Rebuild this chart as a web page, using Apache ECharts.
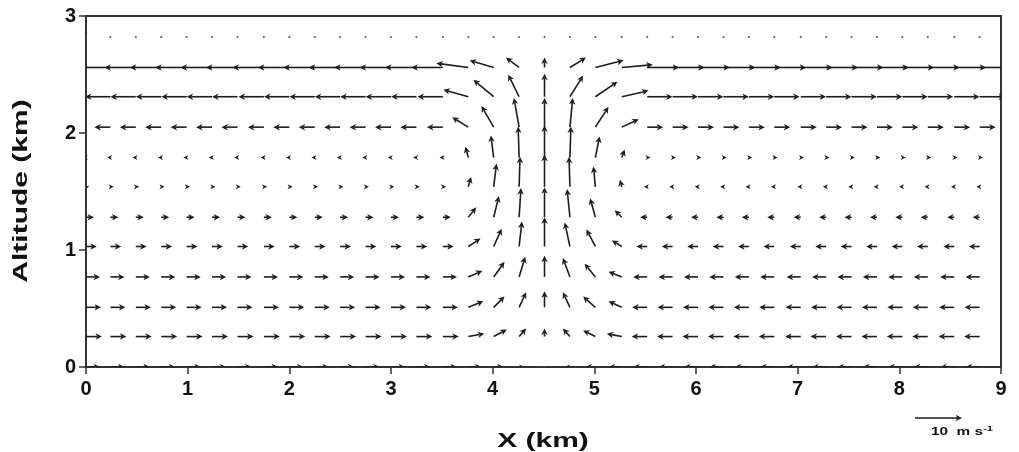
<!DOCTYPE html>
<html>
<head>
<meta charset="utf-8">
<title>Wind vectors</title>
<script src="https://cdn.jsdelivr.net/npm/echarts/dist/echarts.min.js"></script>
<style>
    html, body { margin: 0; padding: 0; background: #fff; }
    #main { width: 1019px; height: 452px; }
</style>
</head>
<body>
<div id="main"></div>
<script>
    // grid columns (km) and grid rows (km)
    const xKm = [0, 0.24, 0.49, 0.74, 0.99, 1.24, 1.49, 1.75, 2.00, 2.25, 2.50, 2.75, 3.00, 3.25, 3.51, 3.76,
        4.01, 4.26, 4.51, 4.76, 5.01, 5.27, 5.52, 5.77, 6.02, 6.27, 6.52, 6.77, 7.03, 7.28, 7.53, 7.78,
        8.03, 8.28, 8.54, 8.79]
    const zKm = [0, 0.26, 0.51, 0.77, 1.03, 1.28, 1.54, 1.79, 2.05, 2.31, 2.56, 2.82]

    // horizontal wind far from the updraft (m/s), one value per row
    const uWest = [3.0, 3.4, 3.2, 3.0, 2.3, 1.7, 0.7, -0.7, -3.4, -5.4, -6.7, 0]
    const uEast = [-3.0, -3.3, -3.2, -3.0, -2.3, -1.5, -0.7, 0.7, 3.4, 5.4, 6.8, 0]

    // columns around the updraft and their u / w (m/s), one row per altitude
    const coreX = [3.76, 4.01, 4.26, 4.51, 4.76, 5.01, 5.27]
    const coreU = [
        [2.8, 2.1, 1.1, 0, -1.1, -2.1, -2.8],
        [3.4, 2.8, 1.5, 0, -1.5, -2.6, -3.2],
        [3.2, 2.3, 1.5, 0, -1.5, -2.6, -2.8],
        [3.0, 2.3, 1.3, 0, -1.5, -2.3, -2.8],
        [2.6, 1.7, 0.6, 0, -1.1, -1.9, -2.1],
        [1.7, 1.1, 0.4, 0, -0.6, -1.1, -1.5],
        [0.6, 0.6, 0.2, 0, -0.2, -0.4, -0.4],
        [-0.6, -0.6, -0.2, 0, 0.2, 0.9, 0.6],
        [-3.4, -2.6, -1.1, 0, 0.6, 2.8, 3.6],
        [-5.3, -4.3, -2.3, 0, 2.8, 4.7, 5.7],
        [-6.8, -5.1, -2.8, 0, 3.4, 6.0, 6.6],
        [0, 0, 0, 0, 0, 0, 0]
    ]
    const coreW = [
        [0, 0, 0, 0, 0, 0, 0],
        [0.6, 1.5, 1.7, 1.7, 1.7, 1.3, 0.6],
        [1.3, 2.3, 3.2, 3.4, 3.2, 2.3, 1.3],
        [1.3, 3.2, 4.3, 4.5, 4.0, 2.8, 1.1],
        [1.7, 3.8, 5.3, 6.2, 5.1, 3.6, 1.3],
        [2.1, 4.5, 6.2, 6.4, 6.0, 4.0, 1.5],
        [2.1, 4.9, 6.4, 6.8, 6.4, 4.3, 1.5],
        [2.3, 4.7, 6.6, 6.8, 6.6, 4.5, 1.7],
        [2.1, 4.5, 6.2, 6.2, 6.2, 4.3, 1.7],
        [1.5, 3.6, 4.7, 4.9, 4.5, 3.2, 1.3],
        [0.9, 1.5, 2.1, 2.1, 2.1, 1.5, 0.6],
        [0, 0, 0, 0, 0, 0, 0]
    ]
    const refSpeed = 10 // m/s, key arrow

    const PX_PER_MS = 4.7
    const HEAD = 6.5
    const INK = '#1e1e1e'

    let data = []
    zKm.forEach((z, i) => {
        xKm.forEach(x => {
            let k = coreX.indexOf(x)
            if (k >= 0) data.push([x, z, coreU[i][k], coreW[i][k]])
            else data.push([x, z, x < 4.51 ? uWest[i] : uEast[i], 0])
        })
    })

    // arrow from (x0,y0) with pixel offset (dx,dy)
    function arrowShapes(x0, y0, dx, dy) {
        let len = Math.hypot(dx, dy)
        let ux = dx / len, uy = dy / len
        let nx = -uy, ny = ux
        let hl = Math.max(Math.min(HEAD, len), 5)
        let hw = hl * 0.5
        let tx = x0 + dx, ty = y0 + dy
        let bx = tx - ux * hl, by = ty - uy * hl
        let mx = tx - ux * hl * 0.72, my = ty - uy * hl * 0.72
        let out = []
        if (len > hl) {
            out.push({
                type: 'line',
                shape: { x1: x0, y1: y0, x2: mx, y2: my },
                style: { stroke: INK, lineWidth: 1.6 }
            })
        }
        out.push({
            type: 'polygon',
            shape: { points: [[tx, ty], [bx + nx * hw, by + ny * hw], [mx, my], [bx - nx * hw, by - ny * hw]] },
            style: { fill: INK }
        })
        return out
    }

    function renderArrow(params, api) {
        let p = api.coord([api.value(0), api.value(1)])
        let dx = api.value(2) * PX_PER_MS
        let dy = -api.value(3) * PX_PER_MS
        if (Math.hypot(dx, dy) < 0.5) {
            return { type: 'circle', shape: { cx: p[0], cy: p[1], r: 1.1 }, style: { fill: '#666' } }
        }
        return { type: 'group', children: arrowShapes(p[0], p[1], dx, dy) }
    }

    let myChart = echarts.init(document.getElementById('main'))
    let refLen = refSpeed * PX_PER_MS
    myChart.setOption({
        animation: false,
        grid: {
            left: 86,
            right: 18,
            top: 16,
            bottom: 85,
            show: true,
            borderColor: '#333',
            borderWidth: 2
        },
        xAxis: {
            type: 'value',
            min: 0,
            max: 9,
            interval: 1,
            splitLine: { show: false },
            axisLine: { lineStyle: { color: '#333', width: 2 } },
            axisTick: { length: 7, lineStyle: { color: '#333', width: 1.5 } },
            axisLabel: {
                margin: 12,
                color: '#111',
                fontSize: 20,
                fontWeight: 'bold',
                fontFamily: 'Liberation Sans'
            }
        },
        yAxis: {
            type: 'value',
            min: 0,
            max: 3,
            interval: 1,
            splitLine: { show: false },
            axisLine: { lineStyle: { color: '#333', width: 2 } },
            axisTick: { length: 7, lineStyle: { color: '#333', width: 1.5 } },
            axisLabel: {
                margin: 10,
                color: '#111',
                fontSize: 20,
                fontWeight: 'bold',
                fontFamily: 'Liberation Sans'
            }
        },
        graphic: [
            {
                type: 'text',
                x: 543,
                y: 441,
                scaleX: 1.5,
                style: {
                    text: 'X (km)',
                    font: 'bold 20px "Liberation Sans"',
                    fill: '#111',
                    textAlign: 'center',
                    textVerticalAlign: 'middle'
                }
            },
            {
                type: 'text',
                x: 21,
                y: 191,
                rotation: Math.PI / 2,
                scaleX: 1.5,
                style: {
                    text: 'Altitude (km)',
                    font: 'bold 20px "Liberation Sans"',
                    fill: '#111',
                    textAlign: 'center',
                    textVerticalAlign: 'middle'
                }
            },
            {
                type: 'group',
                children: arrowShapes(915, 418, refLen, 0)
            },
            {
                type: 'text',
                x: 962,
                y: 432,
                scaleX: 1.4,
                style: {
                    text: '{a|10  m s}{b|-1}',
                    textAlign: 'center',
                    textVerticalAlign: 'middle',
                    rich: {
                        a: { fontSize: 11, fontWeight: 'bold', fontFamily: 'Liberation Sans', fill: '#111', lineHeight: 14 },
                        b: { fontSize: 8, fontWeight: 'bold', fontFamily: 'Liberation Sans', fill: '#111', lineHeight: 14, verticalAlign: 'top' }
                    }
                }
            }
        ],
        series: [{
            type: 'custom',
            clip: true,
            renderItem: renderArrow,
            data: data,
            z: 3
        }]
    })
</script>
</body>
</html>
